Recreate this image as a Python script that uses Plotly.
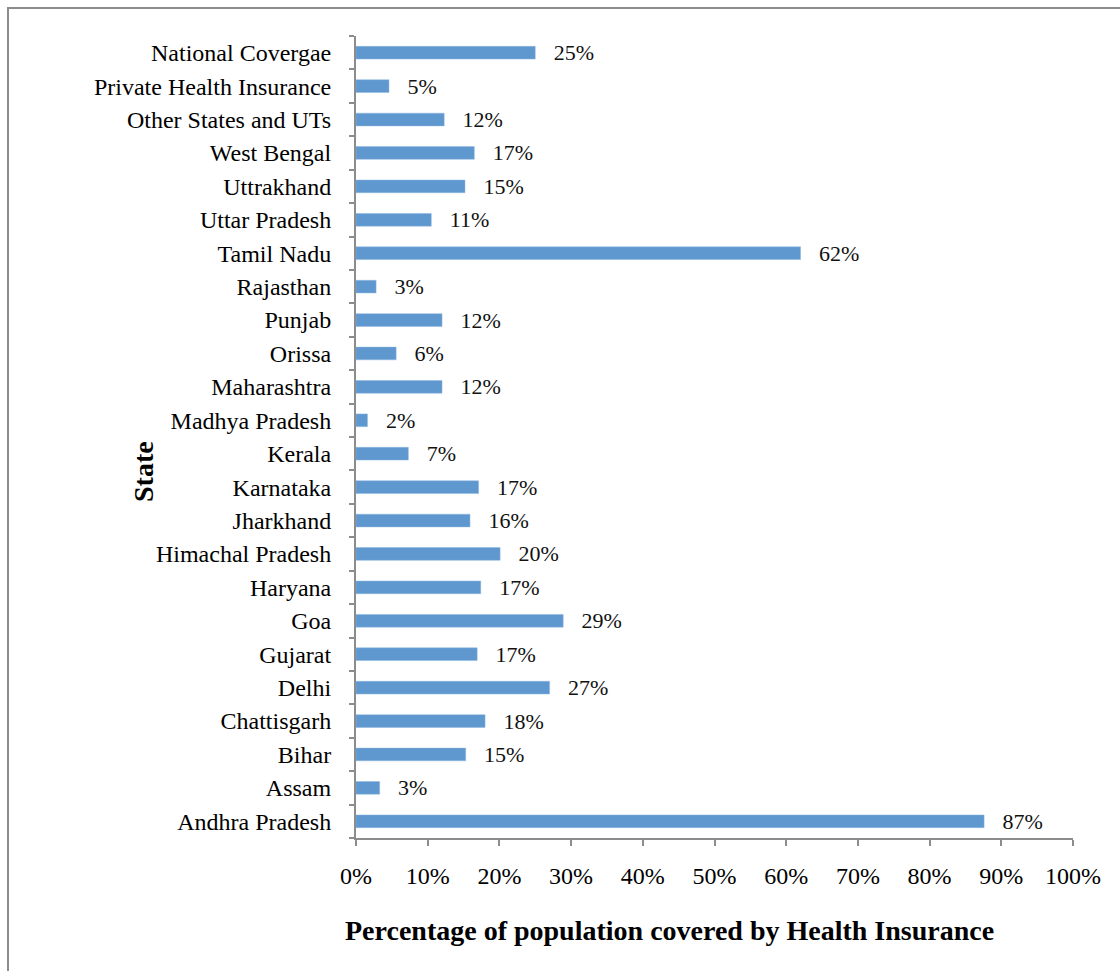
import plotly.graph_objects as go

states = ["Andhra Pradesh", "Assam", "Bihar", "Chattisgarh", "Delhi", "Gujarat", "Goa",
          "Haryana", "Himachal Pradesh", "Jharkhand", "Karnataka", "Kerala", "Madhya Pradesh",
          "Maharashtra", "Orissa", "Punjab", "Rajasthan", "Tamil Nadu", "Uttar Pradesh",
          "Uttrakhand", "West Bengal", "Other States and UTs", "Private Health Insurance",
          "National Covergae"]
coverage = [87.6, 3.3, 15.3, 18.0, 27.0, 16.9, 28.9,
            17.4, 20.1, 15.9, 17.1, 7.3, 1.6,
            12.0, 5.6, 12.0, 2.8, 62.0, 10.5,
            15.2, 16.5, 12.3, 4.6,
            25.0]
labels = ["87%", "3%", "15%", "18%", "27%", "17%", "29%",
          "17%", "20%", "16%", "17%", "7%", "2%",
          "12%", "6%", "12%", "3%", "62%", "11%",
          "15%", "17%", "12%", "5%",
          "25%"]
x_ticks = [0, 10, 20, 30, 40, 50, 60, 70, 80, 90, 100]

FONT = "Liberation Serif"
AXIS_GRAY = "#8c8c8c"

fig = go.Figure(go.Bar(
    x=coverage, y=states, orientation="h",
    marker=dict(color="#5f97cf", line=dict(color="#8db6e0", width=0.5)),
    width=0.38,
    text=["\u2002\u2009" + t for t in labels], textposition="outside",
    constraintext="none",
    textfont=dict(family=FONT, size=22, color="#111111"),
    cliponaxis=False,
))

fig.update_layout(
    width=1120, height=971,
    margin=dict(l=356, r=47, t=36, b=133),
    paper_bgcolor="white", plot_bgcolor="white",
    showlegend=False,
    font=dict(family=FONT, size=24, color="black"),
    xaxis=dict(range=[0, 100], tickvals=x_ticks, ticktext=[f"{v}%" for v in x_ticks],
               showgrid=False, zeroline=False, showline=True, linecolor=AXIS_GRAY, linewidth=2,
               ticks="outside", ticklen=6, tickwidth=2, tickcolor=AXIS_GRAY,
               ticklabelstandoff=9, tickfont=dict(family=FONT, size=24, color="black")),
    yaxis=dict(type="category", categoryorder="array", categoryarray=states,
               showgrid=False, showline=True, linecolor=AXIS_GRAY, linewidth=2,
               ticks="outside", tickson="boundaries", ticklen=5, tickwidth=2, tickcolor=AXIS_GRAY,
               ticklabelstandoff=18, tickfont=dict(family=FONT, size=24, color="black")),
    shapes=[dict(type="rect", xref="paper", yref="paper",
                 x0=(8 - 356) / 717, x1=1.2, y0=-0.3, y1=(838 - 8) / 802,
                 line=dict(color=AXIS_GRAY, width=2), fillcolor="rgba(0,0,0,0)", layer="below")],
    annotations=[
        dict(text="<b>Percentage of population covered by Health Insurance</b>",
             xref="paper", yref="paper", x=(669 - 356) / 717, y=(838 - 930) / 802,
             xanchor="center", yanchor="middle", showarrow=False,
             font=dict(family=FONT, size=28, color="black")),
        dict(text="<b>State</b>", textangle=-90,
             xref="paper", yref="paper", x=(143 - 356) / 717, y=(838 - 472) / 802,
             xanchor="center", yanchor="middle", showarrow=False,
             font=dict(family=FONT, size=28, color="black")),
    ],
)

fig.write_html("out.html")
